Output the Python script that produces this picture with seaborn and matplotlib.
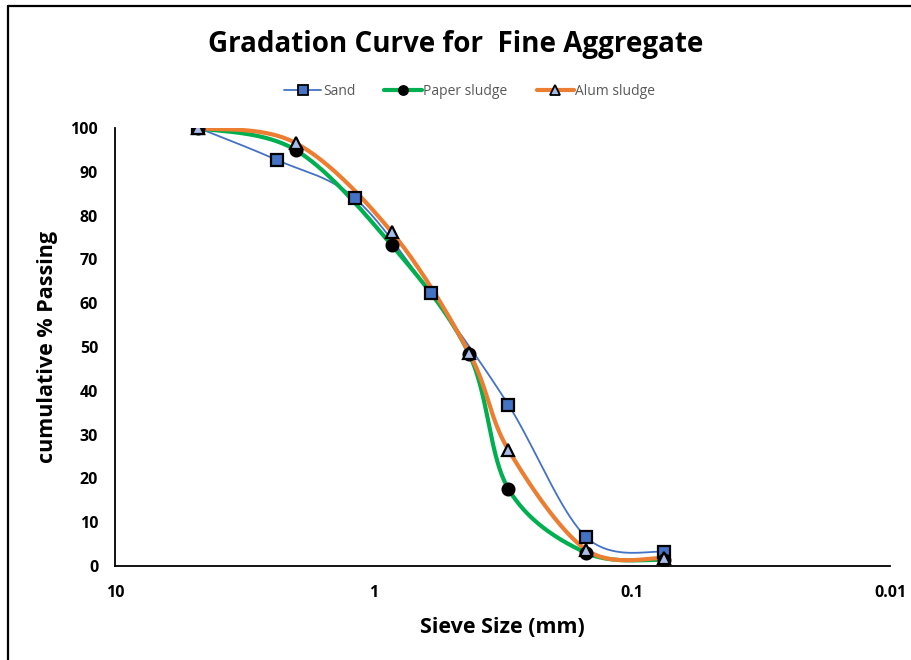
"""Gradation curve for fine aggregate (Excel-style smoothed lines)."""

import matplotlib

matplotlib.use("Agg")
import matplotlib.pyplot as plt
import numpy as np
import seaborn as sns
from matplotlib.lines import Line2D
from matplotlib.ticker import FixedLocator, NullLocator

# --- Data ---
sand_size = [4.75, 2.36, 1.18, 0.6, 0.3, 0.15, 0.075]
sand_pass = [100, 92.7, 84.0, 62.3, 36.8, 6.6, 3.2]

sludge_size = [4.75, 2.0, 0.85, 0.425, 0.3, 0.15, 0.075]
paper_pass = [100, 95.0, 73.3, 48.3, 17.6, 3.0, 1.4]
alum_pass = [100, 96.6, 76.3, 48.6, 26.5, 3.7, 1.8]

x_ticks = [10, 1, 0.1, 0.01]
x_tick_labels = ["10", "1", "0.1", "0.01"]
y_ticks = list(range(0, 101, 10))

# --- Style ---
_FONT = ["Open Sans", "DejaVu Sans"]
_BLUE = "#4472C4"
_GREEN = "#00B050"
_ORANGE = "#ED7D31"
_TRI_FILL = "#A9BCE8"
_LEGEND_TXT = "#595959"


def smooth(xs, ys, n=40):
    """Catmull-Rom spline through points in (log10 x, y) space, like Excel smoothing."""
    px = np.log10(np.asarray(xs, dtype=float))
    py = np.asarray(ys, dtype=float)
    pts = np.column_stack([px, py])
    pts = np.vstack([pts[0], pts, pts[-1]])
    out = []
    t = np.linspace(0, 1, n)[:, None]
    for i in range(1, len(pts) - 2):
        p0, p1, p2, p3 = pts[i - 1], pts[i], pts[i + 1], pts[i + 2]
        c1 = p1 + (p2 - p0) / 6
        c2 = p2 - (p3 - p1) / 6
        seg = (
            (1 - t) ** 3 * p1
            + 3 * (1 - t) ** 2 * t * c1
            + 3 * (1 - t) * t**2 * c2
            + t**3 * p2
        )
        out.append(seg if i == 1 else seg[1:])
    out = np.vstack(out)
    return 10 ** out[:, 0], out[:, 1]


sns.set_style("white")
plt.rcParams["font.family"] = _FONT
plt.rcParams.update({
    "text.color": "black",
    "axes.labelcolor": "black",
    "xtick.color": "black",
    "ytick.color": "black",
})

fig = plt.figure(figsize=(9.12, 6.6), dpi=100)
ax = fig.add_axes([0.126, 0.1424, 0.85, 0.6636])

series = [
    (sand_size, sand_pass, _BLUE, 1.3, "s", _BLUE, 8, "Sand"),
    (sludge_size, paper_pass, _GREEN, 3.0, "o", "black", 8.5, "Paper sludge"),
    (sludge_size, alum_pass, _ORANGE, 3.0, "^", _TRI_FILL, 8.5, "Alum sludge"),
]

# curves first, then markers on top
for xs, ys, color, lw, *_ in series:
    sx, sy = smooth(xs, ys)
    sns.lineplot(x=sx, y=sy, ax=ax, color=color, linewidth=lw, sort=False,
                 estimator=None, zorder=2)
for i, (xs, ys, color, lw, mk, fc, ms, label) in enumerate(series):
    ax.plot(xs, ys, linestyle="none", marker=mk, markersize=ms,
            markerfacecolor=fc, markeredgecolor="black", markeredgewidth=1.6,
            zorder=3 + i)

ax.set_xscale("log")
ax.set_xlim(10, 0.01)
ax.set_ylim(0, 100)
ax.xaxis.set_major_locator(FixedLocator(x_ticks))
ax.xaxis.set_minor_locator(NullLocator())
ax.set_xticklabels(x_tick_labels)
ax.set_yticks(y_ticks)

for side in ("top", "right"):
    ax.spines[side].set_visible(False)
for side in ("left", "bottom"):
    ax.spines[side].set_color("black")
    ax.spines[side].set_linewidth(1.3)
ax.tick_params(axis="both", direction="out", length=5, width=1.2, color="black",
               labelcolor="black", labelsize=11.5, pad=7)
for lab in ax.get_xticklabels() + ax.get_yticklabels():
    lab.set_fontweight("bold")
ax.tick_params(axis="x", pad=9)

ax.set_xlabel("Sieve Size (mm)", fontsize=15.5, fontweight="bold", labelpad=11)
ax.set_ylabel("cumulative % Passing", fontsize=15.5, fontweight="bold", labelpad=9)

fig.text(0.5, 0.932, "Gradation Curve for  Fine Aggregate", ha="center",
         va="center", fontsize=20, fontweight="bold", color="black")

handles = [
    Line2D([], [], color=c, linewidth=lw, marker=mk, markersize=6.5,
           markerfacecolor=fc, markeredgecolor="black", markeredgewidth=1.3)
    for _, _, c, lw, mk, fc, _, _ in series
]
leg = fig.legend(handles, [s[-1] for s in series], loc="center",
                 bbox_to_anchor=(0.515, 0.862), ncol=3, frameon=False,
                 fontsize=10, handlelength=2.7, handletextpad=0.1,
                 columnspacing=2.1)
for t in leg.get_texts():
    t.set_color(_LEGEND_TXT)

# chart-area frame (top and left edges visible in the crop)
fig.add_artist(Line2D([8 / 912, 1], [1 - 6 / 660] * 2, transform=fig.transFigure,
                      color="black", linewidth=1.6))
fig.add_artist(Line2D([8 / 912] * 2, [0, 1 - 6 / 660], transform=fig.transFigure,
                      color="black", linewidth=1.6))

fig.savefig("out.png", dpi=100)
